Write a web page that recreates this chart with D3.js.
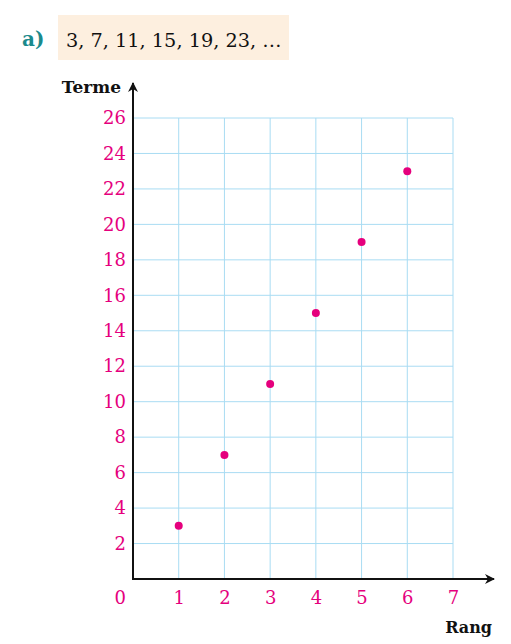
<!DOCTYPE html>
<html><head><meta charset="utf-8">
<script src="https://cdn.jsdelivr.net/npm/d3@7"></script>
<style>body{margin:0;background:#fff}svg{display:block}</style>
</head><body>
<script>
const rangs = [1, 2, 3, 4, 5, 6];
const termes = [3, 7, 11, 15, 19, 23];
const xTicks = [1, 2, 3, 4, 5, 6, 7];
const yTicks = [2, 4, 6, 8, 10, 12, 14, 16, 18, 20, 22, 24, 26];
const sequenceText = "3, 7, 11, 15, 19, 23, …";

const W = 511, H = 644;
const svg = d3.select("body").append("svg").attr("width", W).attr("height", H);
const font = "'DejaVu Serif', 'Liberation Serif', serif";
const magenta = "#e5007d";

const x = d3.scaleLinear().domain([0, 7]).range([133, 453]);
const y = d3.scaleLinear().domain([0, 26]).range([579, 118]);

// header
svg.append("rect").attr("x", 58).attr("y", 15).attr("width", 231).attr("height", 45).attr("fill", "#fdefdf");
svg.append("text").attr("x", 22).attr("y", 46).attr("font-family", font).attr("font-weight", "bold")
  .attr("font-size", 20).attr("fill", "#1b8a8c").text("a)");
svg.append("text").attr("x", 66).attr("y", 47).attr("font-family", font)
  .attr("font-size", 19.3).attr("fill", "#111").text(sequenceText);

// grid
const grid = svg.append("g").attr("stroke", "#a9dcf3").attr("stroke-width", 1);
grid.selectAll("line.v").data(xTicks).join("line")
  .attr("x1", d => x(d)).attr("x2", d => x(d)).attr("y1", y(26)).attr("y2", y(0));
grid.selectAll("line.h").data(yTicks).join("line")
  .attr("y1", d => y(d)).attr("y2", d => y(d)).attr("x1", x(0)).attr("x2", x(7));

// axes using d3 axes for labels
const xAxis = d3.axisBottom(x).tickValues(xTicks).tickFormat(d3.format("d")).tickSize(0).tickPadding(12);
const gx = svg.append("g").attr("transform", `translate(0,${y(0)})`).call(xAxis);
gx.select(".domain").remove();
gx.selectAll("text").attr("font-family", font).attr("font-size", 18).attr("fill", magenta);

const yAxis = d3.axisLeft(y).tickValues(yTicks).tickFormat(d3.format("d")).tickSize(0).tickPadding(7);
const gy = svg.append("g").attr("transform", `translate(${x(0)},0)`).call(yAxis);
gy.select(".domain").remove();
gy.selectAll("text").attr("font-family", font).attr("font-size", 18).attr("fill", magenta);

svg.append("text").attr("x", x(0) - 7).attr("y", y(0) + 25).attr("text-anchor", "end")
  .attr("font-family", font).attr("font-size", 18).attr("fill", magenta).text("0");

// axis lines with arrows
const defs = svg.append("defs");
defs.append("marker").attr("id", "arr").attr("viewBox", "0 0 10 10").attr("refX", 9).attr("refY", 5)
  .attr("markerWidth", 10).attr("markerHeight", 10).attr("markerUnits", "userSpaceOnUse").attr("orient", "auto")
  .append("path").attr("d", "M0,0 L10,5 L0,10 L3,5 Z").attr("fill", "#111");

svg.append("line").attr("x1", x(0)).attr("x2", 494).attr("y1", y(0)).attr("y2", y(0))
  .attr("stroke", "#111").attr("stroke-width", 2).attr("marker-end", "url(#arr)");
svg.append("line").attr("x1", x(0)).attr("x2", x(0)).attr("y1", y(0) + 1).attr("y2", 83)
  .attr("stroke", "#111").attr("stroke-width", 2).attr("marker-end", "url(#arr)");

svg.append("text").attr("x", 121).attr("y", 93).attr("text-anchor", "end").attr("font-family", font)
  .attr("font-weight", "bold").attr("font-size", 17).attr("fill", "#111").text("Terme");
svg.append("text").attr("x", 492).attr("y", 633).attr("text-anchor", "end").attr("font-family", font)
  .attr("font-weight", "bold").attr("font-size", 16).attr("fill", "#111").text("Rang");

// points
svg.selectAll("circle.pt").data(rangs).join("circle")
  .attr("cx", d => x(d)).attr("cy", (d, i) => y(termes[i])).attr("r", 4).attr("fill", magenta);
</script>
</body></html>
